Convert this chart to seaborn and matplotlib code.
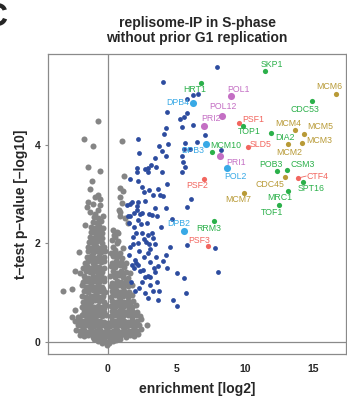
import matplotlib
matplotlib.use("Agg")
import matplotlib.pyplot as plt
import seaborn as sns
import pandas as pd

# ---------------- data ----------------
title_lines = ["replisome-IP in S-phase", "without prior G1 replication"]
x_label = "enrichment [log2]"
y_label = "t\u2013test p\u2013value [\u2013log10]"
x_ticks = [0, 5, 10, 15]
y_ticks = [0, 2, 4]

# background (not enriched) proteins: (enrichment, -log10 p)
gray_bottom = [
    (-1.0, 0.05), (-0.7, 0.02), (-0.4, -0.02), (-0.15, 0.0), (0.1, -0.03), (0.35, 0.02), (0.6, 0.04),
    (0.9, 0.06), (-0.25, 0.08), (0.2, 0.07), (-0.5, 0.06), (0.5, 0.08), (-0.05, -0.06),
    (-2.0, 0.14), (-1.7, 0.11), (-1.4, 0.13), (-1.1, 0.1), (-0.8, 0.12), (-0.5, 0.11), (-0.2, 0.13),
    (0.1, 0.1), (0.4, 0.12), (0.7, 0.11), (1.0, 0.13), (1.3, 0.1), (1.6, 0.14), (1.9, 0.12), (2.2, 0.15),
    (-1.85, 0.17), (-1.55, 0.18), (-1.25, 0.17), (-0.95, 0.18), (-0.65, 0.17), (-0.35, 0.18), (-0.05, 0.17),
    (0.25, 0.18), (0.55, 0.17), (0.85, 0.18), (1.15, 0.17), (1.45, 0.18), (1.75, 0.17), (2.05, 0.18),
    (-2.3, 0.24), (-2.0, 0.21), (-1.75, 0.23), (-1.45, 0.2), (-1.15, 0.22), (-0.85, 0.21), (-0.55, 0.23),
    (-0.25, 0.2), (0.05, 0.22), (0.35, 0.21), (0.65, 0.23), (0.95, 0.2), (1.25, 0.22), (1.55, 0.21),
    (1.85, 0.24), (2.15, 0.22), (2.45, 0.25),
    (-2.2, 0.33), (-1.9, 0.31), (-1.6, 0.34), (-1.3, 0.3), (-1.0, 0.32), (-0.7, 0.31), (-0.4, 0.33),
    (-0.1, 0.3), (0.2, 0.32), (0.5, 0.31), (0.8, 0.34), (1.1, 0.3), (1.4, 0.32), (1.7, 0.33), (2.0, 0.31),
    (2.3, 0.34), (2.85, 0.34),
    (-2.05, 0.37), (-1.75, 0.37), (-1.45, 0.38), (-1.15, 0.37), (-0.85, 0.38), (-0.55, 0.37), (-0.25, 0.38),
    (0.05, 0.37), (0.35, 0.38), (0.65, 0.37), (0.95, 0.38), (1.25, 0.37), (1.55, 0.38), (1.85, 0.37),
    (2.15, 0.38),
    (-2.4, 0.41), (-2.05, 0.43), (-1.75, 0.42), (-1.45, 0.44), (-1.15, 0.41), (-0.85, 0.43), (-0.55, 0.42),
    (-0.25, 0.4), (0.3, 0.43), (0.6, 0.41), (0.9, 0.44), (1.2, 0.42), (1.5, 0.4), (1.8, 0.43), (2.1, 0.42),
    (2.45, 0.45),
]
gray_middle = [
    (-2.62, 0.51), (-2.15, 0.51), (-1.9, 0.55), (-1.6, 0.52), (-1.3, 0.53), (-1.0, 0.5), (-0.7, 0.54),
    (-0.4, 0.52), (-0.15, 0.55), (0.25, 0.52), (0.55, 0.54), (0.85, 0.5), (1.15, 0.53), (1.45, 0.55),
    (1.75, 0.51), (2.05, 0.54), (2.35, 0.52),
    (-1.6, 0.57), (-1.3, 0.58), (-1.0, 0.57), (-0.7, 0.58), (-0.4, 0.57),
    (0.4, 0.57), (0.7, 0.58), (1.0, 0.57), (1.3, 0.58), (1.6, 0.57), (1.9, 0.58),
    (-2.38, 0.64), (-1.75, 0.61), (-1.45, 0.63), (-1.15, 0.6), (-0.85, 0.64), (-0.55, 0.62), (-0.25, 0.6),
    (0.3, 0.63), (0.6, 0.6), (0.9, 0.64), (1.2, 0.61), (1.5, 0.63), (1.8, 0.62), (2.1, 0.6),
    (-1.75, 0.67), (-1.45, 0.68), (-1.15, 0.67), (-0.85, 0.68), (-0.55, 0.67), (-0.3, 0.68),
    (-1.9, 0.71), (-1.6, 0.74), (-1.3, 0.72), (-1.0, 0.7), (-0.7, 0.73), (-0.4, 0.71), (-0.15, 0.74),
    (0.25, 0.72), (0.55, 0.7), (0.85, 0.74), (1.15, 0.71), (1.45, 0.73), (1.75, 0.7), (2.05, 0.75),
    (0.45, 0.77), (0.75, 0.78), (1.05, 0.77), (1.35, 0.78), (1.65, 0.77),
    (-1.78, 0.81), (-1.5, 0.83), (-1.2, 0.8), (-0.9, 0.84), (-0.6, 0.82), (-0.3, 0.8), (0.3, 0.83),
    (0.6, 0.81), (0.9, 0.84), (1.2, 0.8), (1.5, 0.83), (1.85, 0.82),
    (-1.6, 0.87), (-1.3, 0.87), (-1.0, 0.88), (-0.7, 0.87), (-0.45, 0.88),
    (-1.85, 0.93), (-1.55, 0.9), (-1.25, 0.92), (-0.95, 0.94), (-0.65, 0.91), (-0.35, 0.93), (0.25, 0.9),
    (0.55, 0.94), (0.85, 0.91), (1.15, 0.93), (1.45, 0.9), (1.75, 0.94),
    (0.4, 0.97), (0.7, 0.98), (1.0, 0.97), (1.3, 0.98),
    (-2.58, 1.07), (-3.28, 1.03), (-1.7, 1.02), (-1.4, 1.0), (-1.1, 1.04), (-0.8, 1.01), (-0.5, 1.03),
    (-0.2, 1.0), (0.3, 1.02), (0.6, 1.05), (0.9, 1.0), (1.2, 1.03), (1.55, 1.01),
    (-1.55, 1.07), (-1.25, 1.08), (-0.95, 1.07), (-0.65, 1.08), (-0.35, 1.07),
    (-1.9, 1.14), (-1.6, 1.1), (-1.3, 1.13), (-1.0, 1.11), (-0.7, 1.14), (-0.4, 1.1), (0.25, 1.12),
    (0.55, 1.1), (0.85, 1.14), (1.15, 1.11), (1.45, 1.13), (1.75, 1.15),
    (0.4, 1.17), (0.7, 1.18), (1.0, 1.17), (1.3, 1.18),
    (-1.8, 1.21), (-1.5, 1.24), (-1.2, 1.2), (-0.9, 1.23), (-0.6, 1.21), (-0.3, 1.24), (0.3, 1.2),
    (0.65, 1.23), (0.95, 1.21), (1.3, 1.24),
    (-1.65, 1.27), (-1.35, 1.28), (-1.05, 1.27), (-0.75, 1.28), (-0.45, 1.27),
    (-1.7, 1.33), (-1.4, 1.3), (-1.1, 1.34), (-0.8, 1.31), (-0.5, 1.33), (-0.25, 1.3), (0.2, 1.33),
    (0.5, 1.31), (0.8, 1.35), (1.1, 1.32), (1.45, 1.3),
    (0.45, 1.37), (0.8, 1.38), (1.15, 1.37),
    (-2.38, 1.44), (-2.02, 1.40), (-1.6, 1.43), (-1.3, 1.41), (-1.0, 1.44), (-0.7, 1.4), (-0.4, 1.42),
    (0.35, 1.43), (0.65, 1.4), (0.95, 1.44), (1.3, 1.42), (1.6, 1.4),
]
gray_upper = [
    (-1.78, 1.49), (-1.5, 1.53), (-1.2, 1.5), (-0.9, 1.54), (-0.6, 1.52), (-0.3, 1.5), (0.25, 1.53),
    (0.55, 1.51), (0.9, 1.55), (1.2, 1.52),
    (-1.45, 1.47), (-1.15, 1.47), (-0.85, 1.48), (-0.55, 1.47),
    (0.45, 1.57), (0.75, 1.58), (1.05, 1.57),
    (-1.65, 1.59), (-1.4, 1.63), (-1.1, 1.6), (-0.8, 1.64), (-0.5, 1.61), (-0.25, 1.63), (0.3, 1.6),
    (0.6, 1.64), (1.0, 1.62), (1.35, 1.6),
    (-1.25, 1.67), (-0.95, 1.67), (-0.65, 1.68), (-0.4, 1.67),
    (-1.5, 1.71), (-1.2, 1.74), (-0.9, 1.7), (-0.6, 1.73), (-0.3, 1.71), (0.35, 1.74), (0.7, 1.71), (1.02, 1.69),
    (0.5, 1.77), (0.8, 1.78),
    (-2.07, 1.81), (-1.4, 1.83), (-1.1, 1.8), (-0.8, 1.84), (-0.5, 1.81), (-0.2, 1.83), (0.53, 1.86),
    (0.9, 1.79), (0.25, 1.8),
    (-1.25, 1.87), (-0.95, 1.88), (-0.65, 1.87), (-0.35, 1.88),
    (-1.45, 1.93), (-1.15, 1.9), (-0.85, 1.94), (-0.55, 1.91), (-0.3, 1.93), (0.35, 1.92), (0.66, 2.0), (1.1, 1.9),
    (-1.35, 2.03), (-1.05, 2.0), (-0.75, 2.04), (-0.45, 2.01), (0.29, 2.06), (0.75, 2.05),
    (-1.15, 2.07), (-0.85, 2.08), (-0.55, 2.07),
    (-1.3, 2.13), (-1.0, 2.1), (-0.7, 2.14), (-0.4, 2.11), (0.53, 2.13), (0.77, 2.20), (0.46, 2.16),
    (-1.25, 2.23), (-0.95, 2.2), (-0.65, 2.24), (-0.4, 2.21), (0.36, 2.27), (0.66, 2.23),
    (-1.05, 2.28), (-0.75, 2.27), (-0.5, 2.28),
    (-1.65, 2.37), (-1.2, 2.33), (-0.9, 2.3), (-0.6, 2.34), (-0.35, 2.31),
    (-1.1, 2.43), (-0.8, 2.4), (-0.5, 2.44), (1.5, 2.40),
    (-1.0, 2.52), (-0.7, 2.5), (-0.32, 2.55), (1.26, 2.50), (0.90, 2.54),
    (-1.29, 2.64), (-0.93, 2.60), (-0.69, 2.67), (0.9, 2.64), (0.85, 2.67),
]
gray_outliers = [
    (-1.41, 2.84), (-1.05, 2.79), (-1.53, 2.74), (-0.56, 2.77), (-0.69, 2.98), (-0.93, 2.94),
    (-0.56, 2.89), (0.90, 2.94), (1.02, 2.81), (-1.29, 3.09), (-1.12, 3.25), (0.90, 3.11),
    (-1.46, 3.54), (-0.56, 3.47), (-1.09, 3.96), (-1.71, 4.11), (1.02, 4.08), (-0.69, 4.48),
    (1.21, 3.37), (1.09, 3.06),
]

# enriched, unlabelled proteins
blue_points = [
    (7.99, 5.57), (4.05, 5.26), (6.24, 5.00), (6.60, 5.02), (5.78, 4.92), (5.78, 4.63), (5.54, 4.56),
    (5.27, 4.51), (4.30, 4.65), (6.24, 4.40), (5.44, 4.36), (4.27, 4.33), (4.13, 4.21), (2.23, 4.11),
    (4.37, 4.02), (5.63, 4.04), (6.49, 4.06), (3.74, 3.97), (3.94, 3.87), (2.28, 3.82), (4.25, 3.77),
    (3.45, 3.72), (6.00, 3.90), (5.44, 3.77), (5.47, 3.64), (5.63, 3.55), (5.39, 3.45), (3.16, 3.58),
    (2.92, 3.52), (3.52, 3.55), (2.72, 3.50), (2.16, 3.53), (2.11, 3.45), (2.96, 3.44), (1.63, 3.31),
    (2.23, 3.25), (4.32, 3.20), (2.52, 3.14), (3.03, 3.08), (3.64, 3.09), (2.67, 3.04), (3.28, 2.98),
    (3.81, 2.98), (2.23, 2.84), (1.75, 2.84), (2.72, 2.86), (6.07, 2.89), (4.05, 2.96), (1.63, 2.79),
    (2.11, 2.75), (3.45, 2.71), (5.76, 2.74), (2.11, 2.67), (1.94, 2.62), (2.32, 2.59), (1.63, 2.55),
    (3.01, 2.59), (3.21, 2.57), (3.57, 2.55), (2.23, 2.47), (2.43, 2.39), (2.84, 2.40), (4.71, 2.49),
    (2.06, 2.20), (2.48, 2.20), (2.96, 2.16), (3.21, 2.20), (2.67, 2.08), (3.32, 2.10), (1.87, 1.98),
    (2.23, 2.00), (3.01, 1.98), (3.45, 1.98), (5.76, 1.96), (2.30, 1.83), (2.92, 1.79), (3.08, 1.88),
    (3.50, 1.71), (4.23, 1.76), (4.05, 1.64), (3.08, 1.61), (2.06, 1.60), (2.19, 1.56), (1.75, 1.56),
    (2.35, 1.44), (1.94, 1.49), (3.69, 1.54), (4.30, 1.50), (3.37, 1.49), (3.45, 1.41), (2.92, 1.33),
    (5.03, 1.39), (5.56, 1.29), (8.06, 1.42), (2.72, 1.31), (3.08, 1.32), (2.48, 1.22), (3.57, 1.22),
    (3.08, 1.15), (2.30, 1.08), (3.32, 1.03), (3.74, 1.03), (2.72, 0.98), (5.69, 0.98), (2.96, 0.88),
    (3.64, 0.85), (4.78, 0.85), (5.03, 0.73), (7.82, 1.91), (1.43, 2.77), (1.46, 2.54), (1.57, 2.40),
    (1.99, 1.66), (7.09, 4.19), (8.24, 3.89), (5.56, 3.91),
    (1.62, 1.92), (1.72, 1.22), (2.62, 1.72), (2.52, 2.62), (1.92, 2.32), (2.82, 2.02), (3.92, 2.32),
    (4.52, 1.92), (4.22, 2.72), (2.02, 1.02), (1.55, 1.75), (2.55, 1.45), (1.85, 2.12), (3.95, 3.45),
]

# labelled replisome components
names = ["HRT1", "SKP1", "CDC53", "TOP1", "DIA2", "MCM10", "POB3", "CSM3", "SPT16", "MRC1", "TOF1", "RRM3",
         "MCM6", "MCM4", "MCM5", "MCM3", "MCM2", "CDC45", "MCM7",
         "PSF1", "SLD5", "PSF2", "PSF3", "CTF4",
         "POL1", "POL12", "PRI2", "PRI1",
         "DPB4", "DPB3", "POL2", "DPB2"]
name_x = [6.80, 11.49, 14.91, 9.84, 11.90, 7.58, 12.32, 13.05, 14.21, 13.16, 12.46, 7.77,
          16.64, 13.67, 14.31, 14.18, 13.12, 12.94, 9.96,
          9.55, 10.20, 7.04, 7.33, 13.89,
          9.01, 8.35, 7.04, 8.16,
          6.22, 7.14, 8.70, 5.54]
name_y = [5.25, 5.49, 4.88, 4.38, 4.23, 3.85, 3.46, 3.48, 3.24, 3.06, 2.77, 2.45,
          5.02, 4.29, 4.22, 4.03, 4.02, 3.34, 3.02,
          4.44, 3.94, 3.31, 1.94, 3.32,
          4.98, 4.58, 4.38, 3.77,
          4.85, 4.02, 3.52, 2.25]
groups = (["other"] * 12 + ["MCM/CDC45"] * 7 + ["GINS/CTF4"] * 5 + ["Pol alpha"] * 4 + ["Pol epsilon"] * 4)

# ---------------- styles ----------------
group_colors = {"other": "#2bb04a", "MCM/CDC45": "#b89a36", "GINS/CTF4": "#f2665f",
                "Pol alpha": "#c46fc4", "Pol epsilon": "#38a9e6"}
group_sizes = {"other": 14, "MCM/CDC45": 14, "GINS/CTF4": 14, "Pol alpha": 26, "Pol epsilon": 26}
# label offsets in pixels (dx, dy; dy positive = up)
label_offsets = {
    "HRT1": (-6, -7), "SKP1": (7, 7), "CDC53": (-7, -8), "TOP1": (7, -6), "DIA2": (14, -4),
    "MCM10": (14, 6), "POB3": (-6, 7), "CSM3": (16, 6), "SPT16": (9, -7), "MRC1": (-8, -7),
    "TOF1": (-7, -7), "RRM3": (-6, -8), "MCM6": (-7, 8), "MCM4": (-7, 7), "MCM5": (16, 7),
    "MCM3": (17, 3), "MCM2": (2, -9), "CDC45": (-15, -7), "MCM7": (-6, -7), "PSF1": (15, 3),
    "SLD5": (13, 3), "PSF2": (-7, -7), "PSF3": (-9, 6), "CTF4": (19, 2), "POL1": (7, 7),
    "POL12": (1, 9), "PRI2": (7, 7), "PRI1": (16, -7), "DPB4": (-15, 0), "DPB3": (-13, -7),
    "POL2": (8, -8), "DPB2": (-5, 7),
}

sns.set_theme(style="white")
plt.rcParams["font.family"] = ["Liberation Sans", "DejaVu Sans"]

W, H = 347, 405
fig = plt.figure(figsize=(W / 100, H / 100), dpi=100)
ax = fig.add_axes([48.3 / W, 50.7 / H, 297.7 / W, 300 / H])

gray_df = pd.DataFrame(gray_bottom + gray_middle + gray_upper + gray_outliers, columns=["x", "y"])
blue_df = pd.DataFrame(blue_points, columns=["x", "y"])
lab_df = pd.DataFrame({"name": names, "x": name_x, "y": name_y, "group": groups})

line_col = "#8a8a8a"
ax.axhline(0, color=line_col, lw=0.9, zorder=1)
ax.axvline(0, color=line_col, lw=0.9, zorder=1)

sns.scatterplot(data=gray_df, x="x", y="y", color="#858585", s=19, linewidth=0, ax=ax, zorder=2, legend=False)
sns.scatterplot(data=blue_df, x="x", y="y", color="#2d4c9f", s=12, linewidth=0, ax=ax, zorder=3, legend=False)
for g, sub in lab_df.groupby("group"):
    sns.scatterplot(data=sub, x="x", y="y", color=group_colors[g], s=group_sizes[g], linewidth=0,
                    ax=ax, zorder=4, legend=False)

for n, x, y, g in zip(names, name_x, name_y, groups):
    dx, dy = label_offsets[n]
    ax.annotate(n, (x, y), xytext=(dx, dy), textcoords="offset pixels", ha="center", va="center",
                fontsize=6.3, color=group_colors[g], zorder=5)
    if n == "CTF4":
        ax.annotate("", (x, y), xytext=(dx - 11, dy), textcoords="offset pixels",
                    arrowprops=dict(arrowstyle="-", color=group_colors[g], lw=0.6, shrinkA=0, shrinkB=0))

ax.set_xlim(-4.33, 17.37)
ax.set_ylim(-0.256, 5.83)
ax.set_xticks(x_ticks)
ax.set_yticks(y_ticks)
ax.set_xticklabels([str(t) for t in x_ticks], fontsize=7.5, fontweight="bold")
ax.set_yticklabels([str(t) for t in y_ticks], fontsize=7.5, fontweight="bold")
ax.tick_params(axis="x", length=0, pad=7)
ax.tick_params(axis="y", length=2, width=0.8, color=line_col, pad=3.5, left=True)
for sp in ax.spines.values():
    sp.set_color(line_col)
    sp.set_linewidth(0.9)
    sp.set_visible(True)
ax.set_xlabel(x_label, fontsize=10, fontweight="bold", labelpad=6)
ax.set_ylabel(y_label, fontsize=10, fontweight="bold", labelpad=5)
ax.set_title("\n".join(title_lines), fontsize=10, fontweight="bold", pad=9, linespacing=1.05)
ax.grid(False)

fig.text(7.5 / W, 1 - 18 / H, "C", ha="right", va="center", fontsize=24, fontweight="bold")

fig.savefig("out.png", dpi=100)
